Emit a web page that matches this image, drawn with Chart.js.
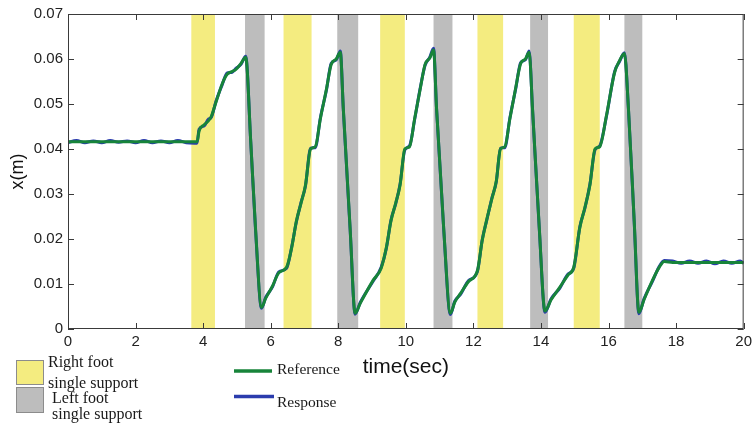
<!DOCTYPE html>
<html>
<head>
<meta charset="utf-8">
<title>Foot position x(m) versus time</title>
<script src="https://cdn.jsdelivr.net/npm/chart.js@4/dist/chart.umd.min.js"></script>
<style>
  html, body { margin: 0; padding: 0; background: #ffffff; }
  #wrap { width: 756px; height: 428px; position: relative; }
</style>
</head>
<body>
<div id="wrap"><canvas id="c" width="756" height="428"></canvas></div>
<script>
// Sample times (s), grouped by gait phase
const timeSec = [
  0, 0.25, 0.5, 0.75, 1, 1.25, 1.5, 1.75, 2, 2.25, 2.5, 2.75, 3, 3.25, 3.5, 3.75,
  3.82, 3.88, 4.03, 4.15, 4.24, 4.38, 4.56, 4.71, 4.85, 4.97, 5.12, 5.26,
  5.41, 5.55, 5.73, 5.85, 6.05, 6.24,
  6.47, 6.62, 6.76, 6.9, 7.03, 7.18, 7.32, 7.47, 7.65, 7.79, 7.94, 8.06,
  8.15, 8.35, 8.5, 8.65, 9.03,
  9.27, 9.42, 9.56, 9.7, 9.83, 9.97, 10.11, 10.26, 10.43, 10.57, 10.71, 10.82,
  10.91, 11.12, 11.32, 11.45, 11.62, 11.85, 12.12,
  12.26, 12.4, 12.55, 12.68, 12.8, 12.93, 13.08, 13.25, 13.4, 13.54, 13.65,
  13.75, 13.95, 14.12, 14.3, 14.56, 14.8, 14.97,
  15.15, 15.3, 15.45, 15.6, 15.74, 15.94, 16.18, 16.33, 16.47,
  16.59, 16.76, 16.9, 17.05, 17.3, 17.5, 17.65,
  17.9, 18.15, 18.4, 18.65, 18.9, 19.15, 19.4, 19.65, 19.9, 20
];

// Reference trajectory x (m)
const referenceX = [
  0.0416, 0.0416, 0.0416, 0.0416, 0.0416, 0.0416, 0.0416, 0.0416, 0.0416, 0.0416, 0.0416, 0.0416, 0.0416, 0.0416, 0.0416, 0.0416,
  0.0416, 0.0440, 0.0454, 0.0462, 0.0472, 0.0504, 0.0544, 0.0566, 0.0572, 0.0577, 0.0590, 0.0604,
  0.0416, 0.0225, 0.0048, 0.0068, 0.0095, 0.0125,
  0.0137, 0.0180, 0.0240, 0.0280, 0.0320, 0.0400, 0.0405, 0.0467, 0.0533, 0.0588, 0.0600, 0.0615,
  0.0489, 0.0225, 0.0035, 0.0057, 0.0108,
  0.0135, 0.0180, 0.0240, 0.0280, 0.0320, 0.0400, 0.0405, 0.0467, 0.0535, 0.0588, 0.0602, 0.0620,
  0.0490, 0.0225, 0.0035, 0.0060, 0.0079, 0.0105, 0.0130,
  0.0196, 0.0245, 0.0290, 0.0330, 0.0400, 0.0405, 0.0467, 0.0535, 0.0590, 0.0600, 0.0615,
  0.0490, 0.0225, 0.0040, 0.0065, 0.0093, 0.0120, 0.0137,
  0.0225, 0.0270, 0.0320, 0.0400, 0.0405, 0.0475, 0.0570, 0.0597, 0.0612,
  0.0490, 0.0240, 0.0037, 0.0065, 0.0108, 0.0137, 0.0150,
  0.0148, 0.0148, 0.0148, 0.0148, 0.0148, 0.0148, 0.0148, 0.0148, 0.0148, 0.0148
];

// Measured response x (m)
const responseX = [
  0.0414, 0.0419, 0.0414, 0.0418, 0.0414, 0.0419, 0.0415, 0.0418, 0.0414, 0.0419, 0.0414, 0.0418, 0.0414, 0.0419, 0.0414, 0.0413,
  0.0413, 0.0444, 0.0451, 0.0466, 0.0470, 0.0506, 0.0542, 0.0569, 0.0570, 0.0579, 0.0588, 0.0606,
  0.0414, 0.0222, 0.0046, 0.0070, 0.0093, 0.0127,
  0.0135, 0.0182, 0.0238, 0.0282, 0.0318, 0.0402, 0.0403, 0.0469, 0.0531, 0.0590, 0.0598, 0.0618,
  0.0487, 0.0223, 0.0033, 0.0059, 0.0106,
  0.0137, 0.0178, 0.0242, 0.0278, 0.0322, 0.0398, 0.0407, 0.0465, 0.0537, 0.0586, 0.0604, 0.0624,
  0.0488, 0.0223, 0.0032, 0.0062, 0.0077, 0.0107, 0.0128,
  0.0198, 0.0243, 0.0292, 0.0328, 0.0402, 0.0403, 0.0469, 0.0533, 0.0592, 0.0598, 0.0618,
  0.0488, 0.0223, 0.0037, 0.0067, 0.0091, 0.0122, 0.0135,
  0.0227, 0.0268, 0.0322, 0.0398, 0.0407, 0.0473, 0.0572, 0.0595, 0.0614,
  0.0488, 0.0238, 0.0034, 0.0067, 0.0106, 0.0139, 0.0152,
  0.0151, 0.0146, 0.0151, 0.0146, 0.0151, 0.0145, 0.0151, 0.0146, 0.0151, 0.0146
];

// Single-support phases (s)
const rightFootStart = [3.65, 6.38, 9.24, 12.12, 14.97];
const rightFootEnd   = [4.35, 7.21, 9.97, 12.88, 15.74];
const leftFootStart  = [5.24, 7.97, 10.82, 13.68, 16.47];
const leftFootEnd    = [5.82, 8.59, 11.38, 14.21, 17.00];

// Axis ticks
const xTicks = [0, 2, 4, 6, 8, 10, 12, 14, 16, 18, 20];
const yTicks = [0, 0.01, 0.02, 0.03, 0.04, 0.05, 0.06, 0.07];

const YELLOW = '#f4ec80';
const GREY = '#bdbdbd';
const GREEN = '#17843a';
const BLUE = '#2b3cad';
const SANS = '"Liberation Sans", Arial, sans-serif';
const SERIF = '"Liberation Serif", "Times New Roman", serif';

const toPoints = (ys) => ys.map((y, i) => ({ x: timeSec[i], y: y }));

const phaseBands = {
  id: 'phaseBands',
  beforeDatasetsDraw(chart) {
    const { ctx, chartArea: a, scales: { x } } = chart;
    ctx.save();
    const fillBands = (starts, ends, color) => {
      ctx.fillStyle = color;
      starts.forEach((s, i) => {
        const x0 = x.getPixelForValue(s);
        const x1 = x.getPixelForValue(ends[i]);
        ctx.fillRect(x0, a.top, x1 - x0, a.bottom - a.top);
      });
    };
    fillBands(rightFootStart, rightFootEnd, YELLOW);
    fillBands(leftFootStart, leftFootEnd, GREY);
    ctx.restore();
  }
};

const boxFrame = {
  id: 'boxFrame',
  afterDatasetsDraw(chart) {
    const { ctx, chartArea: a, scales: { x, y } } = chart;
    ctx.save();
    ctx.strokeStyle = '#3a3a3a';
    ctx.lineWidth = 1;
    ctx.strokeRect(a.left + 0.5, a.top + 0.5, a.right - a.left - 1, a.bottom - a.top - 1);
    const len = 6;
    ctx.beginPath();
    xTicks.forEach((t) => {
      const px = Math.round(x.getPixelForValue(t)) + 0.5;
      ctx.moveTo(px, a.bottom); ctx.lineTo(px, a.bottom - len);
      ctx.moveTo(px, a.top); ctx.lineTo(px, a.top + len);
    });
    yTicks.forEach((v) => {
      const py = Math.round(y.getPixelForValue(v)) + 0.5;
      ctx.moveTo(a.left, py); ctx.lineTo(a.left + len, py);
      ctx.moveTo(a.right, py); ctx.lineTo(a.right - len, py);
    });
    ctx.stroke();
    ctx.restore();
  }
};

const keyBoxes = {
  id: 'keyBoxes',
  afterDraw(chart) {
    const ctx = chart.ctx;
    ctx.save();
    // support phase swatches
    ctx.lineWidth = 1;
    ctx.strokeStyle = '#8c8c8c';
    ctx.fillStyle = YELLOW;
    ctx.fillRect(16, 360, 28, 25);
    ctx.strokeRect(16.5, 360.5, 27, 24);
    ctx.fillStyle = GREY;
    ctx.fillRect(16, 387, 28, 26);
    ctx.strokeRect(16.5, 387.5, 27, 25);
    ctx.fillStyle = '#1a1a1a';
    ctx.textBaseline = 'alphabetic';
    ctx.textAlign = 'left';
    ctx.font = '16px ' + SERIF;
    ctx.fillText('Right foot', 48, 367);
    ctx.fillText('single support', 48, 388);
    ctx.fillText('Left foot', 52, 403);
    ctx.fillText('single support', 52, 419);
    // line series key
    ctx.lineWidth = 3.5;
    ctx.strokeStyle = GREEN;
    ctx.beginPath(); ctx.moveTo(234, 371); ctx.lineTo(272, 371); ctx.stroke();
    ctx.strokeStyle = BLUE;
    ctx.beginPath(); ctx.moveTo(234, 396.5); ctx.lineTo(274, 396.5); ctx.stroke();
    ctx.font = '15.5px ' + SERIF;
    ctx.fillText('Reference', 277, 374);
    ctx.fillText('Response', 277, 407);
    ctx.restore();
  }
};

new Chart(document.getElementById('c'), {
  type: 'line',
  data: {
    datasets: [
      {
        // drawn on top
        label: 'Reference',
        data: toPoints(referenceX),
        borderColor: GREEN,
        borderWidth: 3,
        pointRadius: 0,
        order: 0,
        cubicInterpolationMode: 'monotone'
      },
      {
        label: 'Response',
        data: toPoints(responseX),
        borderColor: BLUE,
        borderWidth: 3,
        pointRadius: 0,
        order: 1,
        cubicInterpolationMode: 'monotone'
      }
    ]
  },
  options: {
    responsive: false,
    animation: false,
    devicePixelRatio: 1,
    layout: { padding: { top: 11, right: 8, left: 0, bottom: 0 } },
    plugins: { legend: { display: false }, tooltip: { enabled: false } },
    scales: {
      x: {
        type: 'linear',
        min: 0,
        max: 20,
        afterFit: (s) => { s.height = 99; },
        afterBuildTicks: (s) => { s.ticks = xTicks.map((v) => ({ value: v })); },
        grid: { display: false, drawTicks: false },
        border: { display: false },
        ticks: {
          padding: 4,
          color: '#222',
          font: { family: SANS, size: 15 },
          maxRotation: 0,
          callback: (v) => String(v)
        },
        title: {
          display: true,
          text: 'time(sec)',
          color: '#111',
          font: { family: SANS, size: 21 },
          padding: { top: 0, bottom: 48 }
        }
      },
      y: {
        type: 'linear',
        min: 0,
        max: 0.07,
        afterFit: (s) => { s.width = 68; },
        afterBuildTicks: (s) => { s.ticks = yTicks.map((v) => ({ value: v })); },
        grid: { display: false, drawTicks: false },
        border: { display: false },
        ticks: {
          padding: 5,
          color: '#222',
          font: { family: SANS, size: 15 },
          callback: (v) => (v === 0 ? '0' : v.toFixed(2))
        },
        title: {
          display: true,
          text: 'x(m)',
          color: '#111',
          font: { family: SANS, size: 18 },
          padding: { top: 7, bottom: 0 }
        }
      }
    }
  },
  plugins: [phaseBands, boxFrame, keyBoxes]
});
</script>
</body>
</html>
